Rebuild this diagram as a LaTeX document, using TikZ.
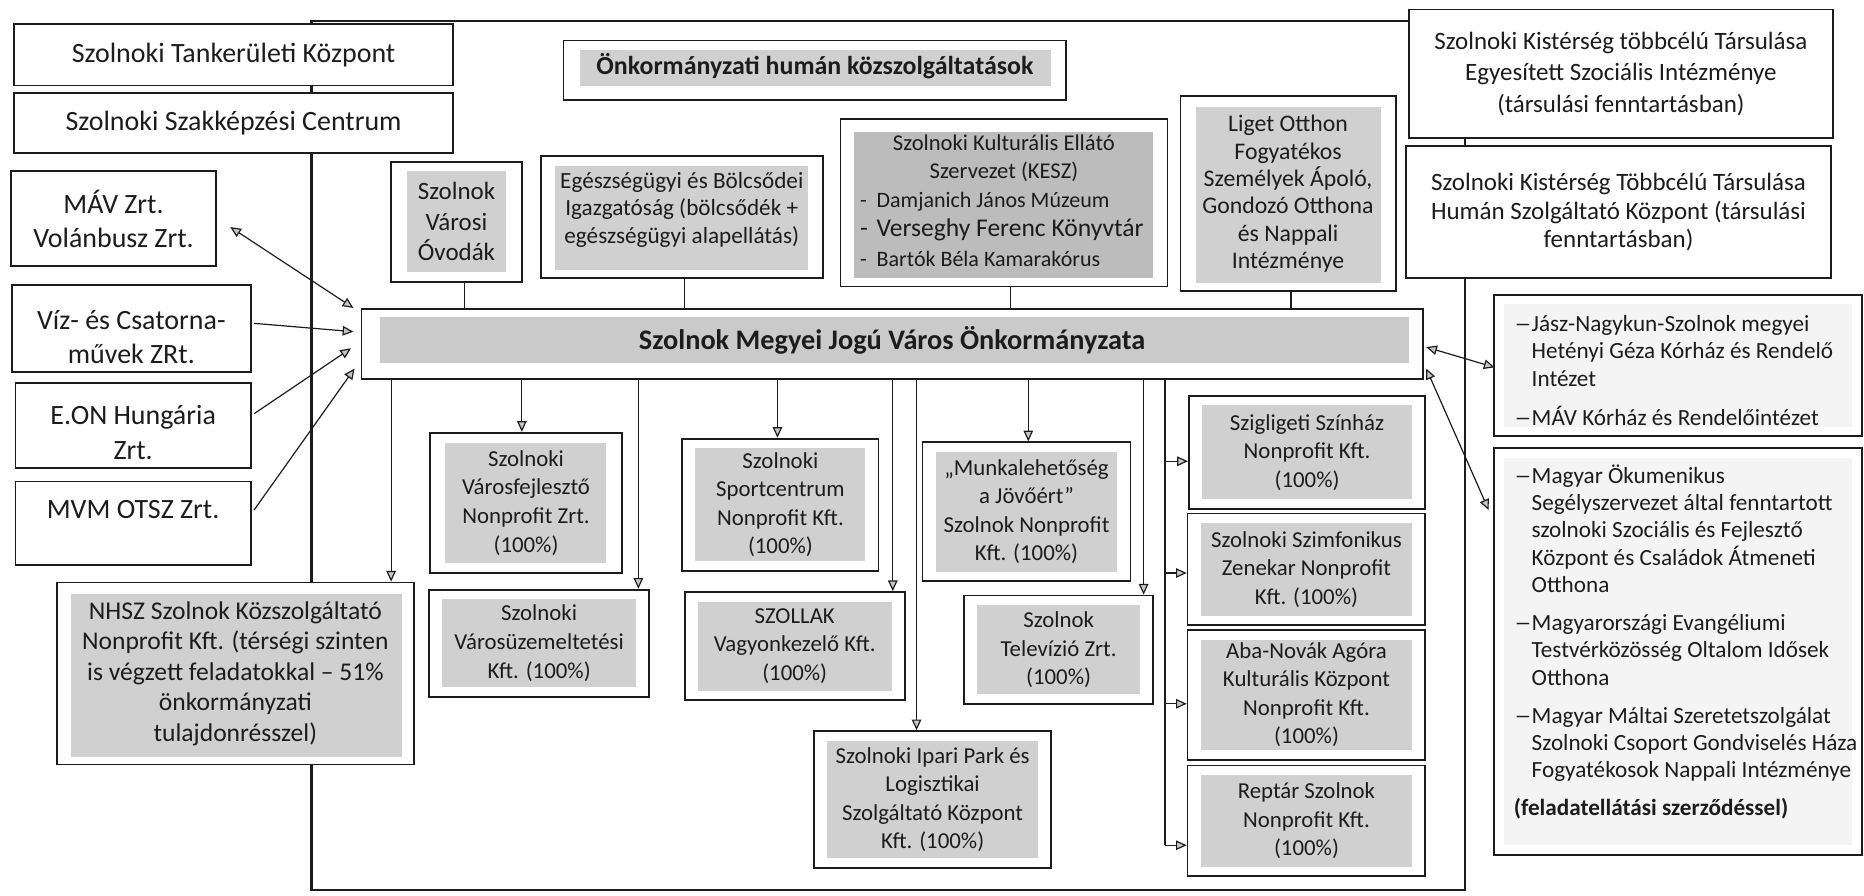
\documentclass[tikz,border=0pt]{standalone}
\usepackage{fontspec}
\setmainfont{Carlito}
\usetikzlibrary{arrows.meta,calc}
\definecolor{ink}{RGB}{28,28,28}
\definecolor{shA}{RGB}{208,208,208}
\definecolor{shK}{RGB}{188,188,188}
\definecolor{shB}{RGB}{202,202,202}
\definecolor{shL}{RGB}{244,244,244}
\newcommand{\rdash}{\makebox[15pt][r]{\scalebox{1.5}[1]{–}}}
\newcommand{\rind}{\hspace*{15pt}}
\newcommand{\kdash}{\makebox[14pt][l]{-}}
\begin{document}
\begin{tikzpicture}[x=1pt,y=-1pt,
  box/.style={draw=ink,fill=white,line width=1.5pt,inner sep=0pt,align=center,text=ink},
  shd/.style n args={5}{path picture={\fill[#1] ([shift={(#2,-#3)}]path picture bounding box.north west) rectangle ([shift={(-#4,#5)}]path picture bounding box.south east);}},
  shc/.style={shd={shA}{11pt}{8pt}{11pt}{8pt}},
  txt/.style={inner sep=0pt,text=ink},
  fLeft/.style={font=\fontsize{23.5}{29}\selectfont},
  fComp/.style={font=\fontsize{19.2}{24}\selectfont},
  fTop/.style={font=\fontsize{21}{26.5}\selectfont},
  fSoc/.style={font=\fontsize{19.5}{23}\selectfont},
  conn/.style={draw=ink,line width=1pt},
  gtri/.tip={Triangle[length=9pt,width=8pt,fill=gray!45]},
  arr/.style={conn,-gtri},
  arrr/.style={conn,gtri-gtri},
]
\useasboundingbox (0,0) rectangle (1568,753);
\fill[white] (0,0) rectangle (1568,753);

% outer frame of the municipality
\draw[ink,line width=1.8pt] (262,18) rectangle (1232,749);

% left column
\node[box,fLeft,minimum width=369pt,minimum height=52pt] (tank) at (196.5,46) {Szolnoki Tankerületi Központ};
\node[box,fLeft,minimum width=369pt,minimum height=51pt] (szak) at (196.5,103.5) {Szolnoki Szakképzési Centrum};
\node[box,fLeft,minimum width=173pt,minimum height=80pt] (mav) at (95.5,184) {MÁV Zrt.\\Volánbusz Zrt.};
\node[box,minimum width=201pt,minimum height=73pt] (viz) at (110.5,276.5) {};
\node[txt,fLeft,align=center] at ($(viz)+(0,7)$) {Víz- és Csatorna-\\művek ZRt.};
\node[box,minimum width=198pt,minimum height=72pt] (eon) at (112,358) {};
\node[txt,fLeft,align=center] at ($(eon)+(0,6)$) {E.ON Hungária\\Zrt.};
\node[box,minimum width=198pt,minimum height=70pt] (mvm) at (112,440) {};
\node[txt,fLeft] at ($(mvm)+(0,-11)$) {MVM OTSZ Zrt.};
\node[box,shd={shA}{12pt}{10pt}{10pt}{6pt},font=\fontsize{21.5}{25.7}\selectfont,minimum width=300pt,minimum height=153pt] (nhsz) at (198,566.5) {NHSZ Szolnok Közszolgáltató\\Nonprofit Kft. (térségi szinten\\is végzett feladatokkal – 51\%\\önkormányzati\\tulajdonrésszel)};

% top row (human services)
\node[box,shd={shA}{14pt}{8pt}{13pt}{12pt},minimum width=423pt,minimum height=50pt] (onk) at (685.5,59) {};
\node[txt,font=\bfseries\fontsize{21.8}{26}\selectfont] at ($(onk)+(0,-3)$) {Önkormányzati humán közszolgáltatások};
\node[box,shd={shA}{13pt}{8pt}{13pt}{8pt},font=\fontsize{21}{25.5}\selectfont,minimum width=110pt,minimum height=101pt] (ovoda) at (384,186.5) {Szolnok\\Városi\\Óvodák};
\node[box,shd={shA}{12pt}{9pt}{12pt}{7pt},minimum width=237pt,minimum height=103pt] (eu) at (573.5,182.5) {};
\node[txt,align=center,font=\fontsize{19.5}{23}\selectfont] at ($(eu)+(0,-6)$) {Egészségügyi és Bölcsődei\\Igazgatóság (bölcsődék +\\egészségügyi alapellátás)};
\node[box,shd={shK}{11pt}{11pt}{12pt}{7pt},minimum width=275pt,minimum height=141pt] (kesz) at (844.5,170.5) {};
\node[txt,align=center,font=\fontsize{19}{24}\selectfont] at ($(kesz.north)+(0,34)$) {Szolnoki Kulturális Ellátó\\Szervezet (KESZ)};
\node[txt,anchor=west,align=left,font=\fontsize{18.5}{24.5}\selectfont] at ($(kesz.west)+(17,22.5)$) {\kdash Damjanich János Múzeum\\{\fontsize{21.5}{24.5}\selectfont\kdash Verseghy Ferenc Könyvtár}\\\kdash Bartók Béla Kamarakórus};
\node[box,shd={shA}{13pt}{9pt}{12pt}{7pt},font=\fontsize{20}{23}\selectfont,minimum width=181pt,minimum height=164pt] (liget) at (1083.5,163) {Liget Otthon\\Fogyatékos\\Személyek Ápoló,\\Gondozó Otthona\\és Nappali\\Intézménye};

% right column
\node[box,fTop,minimum width=357pt,minimum height=108pt] (kist1) at (1363.5,62) {Szolnoki Kistérség többcélú Társulása\\Egyesített Szociális Intézménye\\(társulási fenntartásban)};
\node[box,font=\fontsize{21}{24}\selectfont,minimum width=357pt,minimum height=111pt] (kist2) at (1361.5,178.5) {Szolnoki Kistérség Többcélú Társulása\\Humán Szolgáltató Központ (társulási\\fenntartásban)};
\node[box,shd={shL}{8pt}{8pt}{8pt}{8pt},minimum width=309pt,minimum height=119pt] (hosp) at (1411.5,307.5) {};
\node[txt,fSoc,anchor=west,align=left] at ($(hosp.west)+(17,4)$) {\rdash Jász-Nagykun-Szolnok megyei\\\rind Hetényi Géza Kórház és Rendelő\\\rind Intézet\\[10pt]\rdash MÁV Kórház és Rendelőintézet};
\node[box,shd={shL}{8pt}{8pt}{8pt}{8pt},minimum width=309pt,minimum height=342pt] (char) at (1411.5,548) {};
\node[txt,fSoc,anchor=west,align=left] at ($(char.west)+(17,-8)$) {\rdash Magyar Ökumenikus\\\rind Segélyszervezet által fenntartott\\\rind szolnoki Szociális és Fejlesztő\\\rind Központ és Családok Átmeneti\\\rind Otthona\\[9pt]\rdash Magyarországi Evangéliumi\\\rind Testvérközösség Oltalom Idősek\\\rind Otthona\\[9pt]\rdash Magyar Máltai Szeretetszolgálat\\\rind Szolnoki Csoport Gondviselés Háza\\\rind Fogyatékosok Nappali Intézménye\\[9pt]\textbf{(feladatellátási szerződéssel)}};

% main bar
\node[box,shd={shB}{16pt}{7pt}{12pt}{14pt},minimum width=893pt,minimum height=59pt] (bar) at (750.5,289.5) {};
\node[txt,font=\bfseries\fontsize{23.8}{28}\selectfont] at ($(bar)+(0,-3.5)$) {Szolnok Megyei Jogú Város Önkormányzata};

% companies
\node[box,shd={shA}{12pt}{9pt}{13pt}{8pt},fComp,minimum width=161pt,minimum height=118pt] (c1) at (442.5,423) {Szolnoki\\Városfejlesztő\\Nonprofit Zrt.\\(100\%)};
\node[box,shc,fComp,minimum width=185pt,minimum height=90pt] (c2) at (453.5,541) {Szolnoki\\Városüzemeltetési\\Kft. (100\%)};
\node[box,shc,fComp,minimum width=165pt,minimum height=111pt] (c3) at (656.5,424.5) {Szolnoki\\Sportcentrum\\Nonprofit Kft.\\(100\%)};
\node[box,shc,fComp,minimum width=185pt,minimum height=91pt] (c4) at (668.5,543.5) {SZOLLAK\\Vagyonkezelő Kft.\\(100\%)};
\node[box,shc,fComp,minimum width=199pt,minimum height=115pt] (c5) at (784.5,672.5) {Szolnoki Ipari Park és\\Logisztikai\\Szolgáltató Központ\\Kft. (100\%)};
\node[box,shc,fComp,minimum width=175pt,minimum height=117pt] (c6) at (863.5,430.5) {„Munkalehetőség\\a Jövőért”\\Szolnok Nonprofit\\Kft. (100\%)};
\node[box,shc,fComp,minimum width=159pt,minimum height=91pt] (c7) at (890.5,546.5) {Szolnok\\Televízió Zrt.\\(100\%)};
\node[box,shc,fComp,minimum width=199pt,minimum height=95pt] (c8) at (1099.5,380.5) {Szigligeti Színház\\Nonprofit Kft.\\(100\%)};
\node[box,shc,fComp,minimum width=200pt,minimum height=94pt] (c9) at (1099,479) {Szolnoki Szimfonikus\\Zenekar Nonprofit\\Kft. (100\%)};
\node[box,shc,fComp,minimum width=200pt,minimum height=109pt] (c10) at (1099,584.5) {Aba-Novák Agóra\\Kulturális Központ\\Nonprofit Kft.\\(100\%)};
\node[box,shc,fComp,minimum width=200pt,minimum height=93pt] (c11) at (1099,690.5) {Reptár Szolnok\\Nonprofit Kft.\\(100\%)};

% services to bar
\draw[conn] ($(ovoda.south)+(7,0)$) -- ($(ovoda.south|-bar.north)+(7,0)$);
\draw[conn] ($(eu.south)+(2.5,0)$) -- ($(eu.south|-bar.north)+(2.5,0)$);
\draw[conn] ($(kesz.south)+(5.5,0)$) -- ($(kesz.south|-bar.north)+(5.5,0)$);
\draw[conn] ($(liget.south)+(2.5,0)$) -- ($(liget.south|-bar.north)+(2.5,0)$);

% bar to companies
\draw[arr] ($(nhsz.north|-bar.south)+(131,0)$) -- ($(nhsz.north)+(131,0)$);
\draw[arr] ($(c1.north|-bar.south)+(-3.5,0)$) -- ($(c1.north)+(-3.5,0)$);
\draw[arr] ($(c2.north|-bar.south)+(83.5,0)$) -- ($(c2.north)+(83.5,0)$);
\draw[arr] ($(c3.north|-bar.south)+(-2.5,0)$) -- ($(c3.north)+(-2.5,0)$);
\draw[arr] ($(c4.north|-bar.south)+(82.5,0)$) -- ($(c4.north)+(82.5,0)$);
\draw[arr] ($(c5.north|-bar.south)+(-13.5,0)$) -- ($(c5.north)+(-13.5,0)$);
\draw[arr] ($(c6.north|-bar.south)+(1.5,0)$) -- ($(c6.north)+(1.5,0)$);
\draw[arr] ($(c7.north|-bar.south)+(71.5,0)$) -- ($(c7.north)+(71.5,0)$);
\coordinate (spine) at (980,330);
\draw[conn] (spine|-bar.south) -- ($(spine|-c11.west)+(0,20.5)$);
\draw[arr] ($(spine|-c8.west)+(0,7.5)$) -- ($(c8.west)+(0,7.5)$);
\draw[arr] ($(spine|-c9.west)+(0,3)$) -- ($(c9.west)+(0,3)$);
\draw[arr] ($(spine|-c10.west)+(0,7.5)$) -- ($(c10.west)+(0,7.5)$);
\draw[arr] ($(spine|-c11.west)+(0,20.5)$) -- ($(c11.west)+(0,20.5)$);

% external partners
\draw[arrr] ($(mav.east)+(11,7)$) -- ($(bar.west)+(-6,-30.5)$);
\draw[arr] ($(viz.east)+(2,-4.5)$) -- ($(bar.west)+(-6,-10.5)$);
\draw[arr] ($(eon.east)+(2,-10)$) -- ($(bar.west)+(-8,3.5)$);
\draw[arr] ($(mvm.east)+(2,-11)$) -- ($(bar.west)+(-5,20.5)$);
\draw[arrr] ($(bar.east)+(2,2.5)$) -- ($(hosp.west)+(1,1.5)$);
\draw[arrr] ($(bar.east)+(2,20.5)$) -- ($(char.west)+(-4,-119)$);
\end{tikzpicture}
\end{document}
